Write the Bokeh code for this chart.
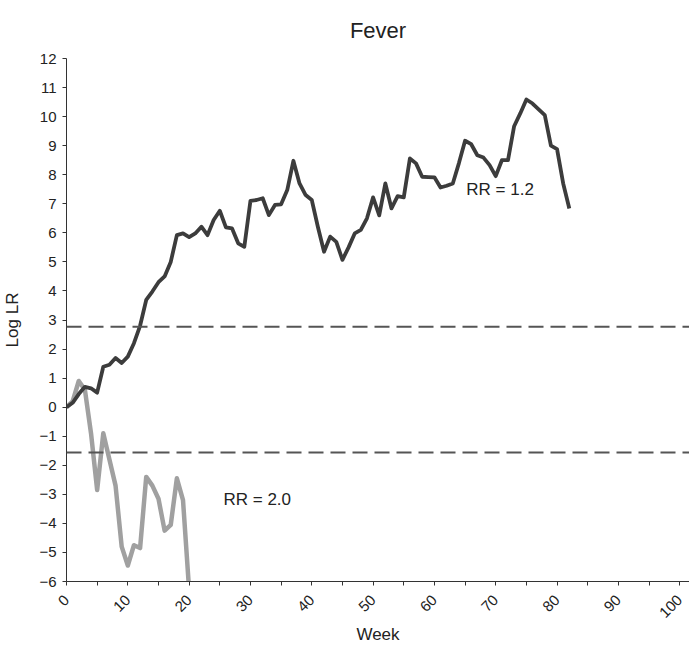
import math
from bokeh.plotting import figure
from bokeh.models import Range1d, Span, FixedTicker, SingleIntervalTicker, Label
from bokeh.embed import file_html
from bokeh.resources import INLINE

# ---- data ----
weeks_rr12 = list(range(0, 83))
loglr_rr12 = [0.0, 0.15, 0.45, 0.7, 0.65, 0.5, 1.39, 1.46, 1.69, 1.52,
              1.74, 2.2, 2.8, 3.69, 3.98, 4.3, 4.5, 5.0, 5.92, 5.98,
              5.85, 5.98, 6.21, 5.92, 6.44, 6.76, 6.19, 6.15, 5.64, 5.52,
              7.10, 7.13, 7.19, 6.61, 6.96, 6.98, 7.47, 8.48, 7.70, 7.30,
              7.13, 6.2, 5.35, 5.87, 5.69, 5.07, 5.5, 5.98, 6.10, 6.50,
              7.22, 6.6, 7.70, 6.84, 7.26, 7.22, 8.56, 8.39, 7.93, 7.92,
              7.91, 7.56, 7.62, 7.70, 8.4, 9.17, 9.05, 8.67, 8.59, 8.33,
              7.95, 8.50, 8.50, 9.67, 10.11, 10.59, 10.45, 10.25, 10.05, 9.0,
              8.88, 7.7, 6.84]

weeks_rr20 = list(range(0, 21))
loglr_rr20 = [0.0, 0.2, 0.9, 0.6, -0.9, -2.85, -0.9, -1.8, -2.7, -4.8,
              -5.45, -4.75, -4.85, -2.4, -2.7, -3.15, -4.25, -4.05, -2.45, -3.2,
              -6.3]

upper_threshold = 2.77
lower_threshold = -1.56

x_major_ticks = list(range(0, 101, 10))
x_minor_ticks = list(range(5, 100, 10))

title_text = "Fever"
label_rr12 = ("RR = 1.2", 65.2, 7.5)
label_rr20 = ("RR = 2.0", 25.6, -3.18)

FONT = "Liberation Sans"

p = figure(width=689, height=647, output_backend="svg", toolbar_location=None,
           x_range=Range1d(0, 101.6), y_range=Range1d(-6, 12),
           min_border_left=58, min_border_right=0, min_border_top=58,
           min_border_bottom=60)

p.title.text = title_text
p.title.align = "center"
p.title.text_font = FONT
p.title.text_font_size = "22px"
p.title.text_font_style = "normal"
p.title.text_color = "#222222"
p.title.standoff = 31

p.grid.visible = False
p.outline_line_color = None
p.background_fill_color = "white"
p.border_fill_color = "white"

# x axis
xa = p.xaxis[0]
xa.ticker = FixedTicker(ticks=x_major_ticks, minor_ticks=x_minor_ticks)
xa.major_label_orientation = math.pi / 4
xa.axis_label = "Week"
xa.axis_label_text_font = FONT
xa.axis_label_text_font_size = "17px"
xa.axis_label_text_font_style = "normal"
xa.axis_label_text_color = "#222222"
xa.axis_label_standoff = 0
xa.major_label_text_font = FONT
xa.major_label_text_font_size = "15px"
xa.major_label_text_color = "#222222"
xa.major_label_standoff = 12
xa.major_tick_in = 0
xa.major_tick_out = 4
xa.minor_tick_in = 0
xa.minor_tick_out = 4
xa.axis_line_color = "#333333"
xa.major_tick_line_color = "#333333"
xa.minor_tick_line_color = "#333333"

# y axis
ya = p.yaxis[0]
ya.ticker = SingleIntervalTicker(interval=1, num_minor_ticks=0)
ya.axis_label = "Log LR"
ya.axis_label_text_font = FONT
ya.axis_label_text_font_size = "17px"
ya.axis_label_text_font_style = "normal"
ya.axis_label_text_color = "#222222"
ya.axis_label_standoff = 14
ya.major_label_text_font = FONT
ya.major_label_text_font_size = "15px"
ya.major_label_text_color = "#222222"
ya.major_label_standoff = 6
ya.major_tick_in = 0
ya.major_tick_out = 4
ya.minor_tick_line_color = None
ya.axis_line_color = "#333333"
ya.major_tick_line_color = "#333333"

# thresholds
for loc in (upper_threshold, lower_threshold):
    p.add_layout(Span(location=loc, dimension="width", line_color="#555555",
                      line_width=2, line_dash="15 7"))

# series
p.line(weeks_rr20, loglr_rr20, line_color="#a0a0a0", line_width=4.5,
       line_join="round")
p.line(weeks_rr12, loglr_rr12, line_color="#3c3c3c", line_width=3.8,
       line_join="round")

for txt, x, y in (label_rr12, label_rr20):
    p.add_layout(Label(x=x, y=y, text=txt, text_font=FONT,
                       text_font_size="17px", text_color="#222222",
                       text_baseline="middle", text_align="left"))

open("out.html", "w").write(file_html(p, INLINE))
